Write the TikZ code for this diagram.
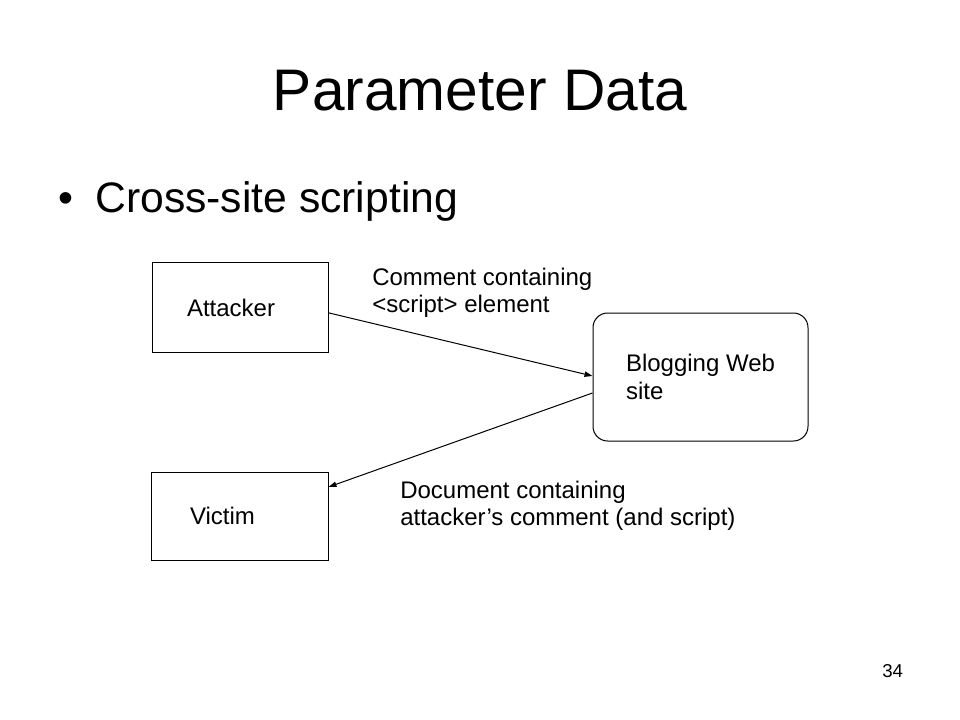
\documentclass[tikz,border=0pt]{standalone}
\usepackage{fontspec}
\setmainfont{Liberation Sans}
\usetikzlibrary{arrows.meta}
\tikzset{
  box/.style={draw, line width=0.75pt, minimum height=66.75pt, align=left, inner ysep=0pt},
  note/.style={font=\fontsize{18}{20}\selectfont, align=left, inner sep=0pt}
}
\begin{document}
\begin{tikzpicture}[x=0.75pt, y=-0.75pt]
  \useasboundingbox (0,0) rectangle (960,720);
  \node[anchor=base, font=\fontsize{44}{50}\selectfont, inner sep=0pt] (title) at (480,111) {Parameter Data};
  \node[anchor=base west, font=\fontsize{32}{38}\selectfont, inner sep=0pt] (bullet) at (58,213) {\textbullet};
  \node[anchor=base west, font=\fontsize{32}{38}\selectfont, inner sep=0pt] (item) at (95,213) {Cross-site scripting};
  \node[box, font=\fontsize{18}{20.7}\selectfont, minimum width=132pt, inner xsep=26.25pt, text width=79.5pt] (attacker) at (240,307.5) {Attacker};
  \node[box, font=\fontsize{18}{20.7}\selectfont, minimum width=132.75pt, minimum height=66pt, inner xsep=29.25pt, text width=74.25pt] (victim) at (239.5,516) {Victim};
  \node[box, font=\fontsize{18}{20.7}\selectfont, rounded corners=11pt, minimum width=161.25pt, minimum height=96pt, inner xsep=0pt] (blog) at (700.5,377) {Blogging Web\\site};
  % base anchor sits on the last line
  \node[note, anchor=base west] (comment) at (372,312) {Comment containing\\<script> element};
  \node[note, anchor=base west] (document) at (400,525) {Document containing\\attacker’s comment (and script)};
  \node[anchor=base west, font=\fontsize{14}{16}\selectfont, inner sep=0pt] (page) at (882,677) {34};
  \begin{scope}[-{Triangle[length=6pt,width=4pt]}, line width=0.75pt]
    \draw ([yshift=-4pt]attacker.east) to ([yshift=0.75pt]blog.west);
    \draw ([yshift=-12pt]blog.west) to ([yshift=21.75pt]victim.east);
  \end{scope}
\end{tikzpicture}
\end{document}
